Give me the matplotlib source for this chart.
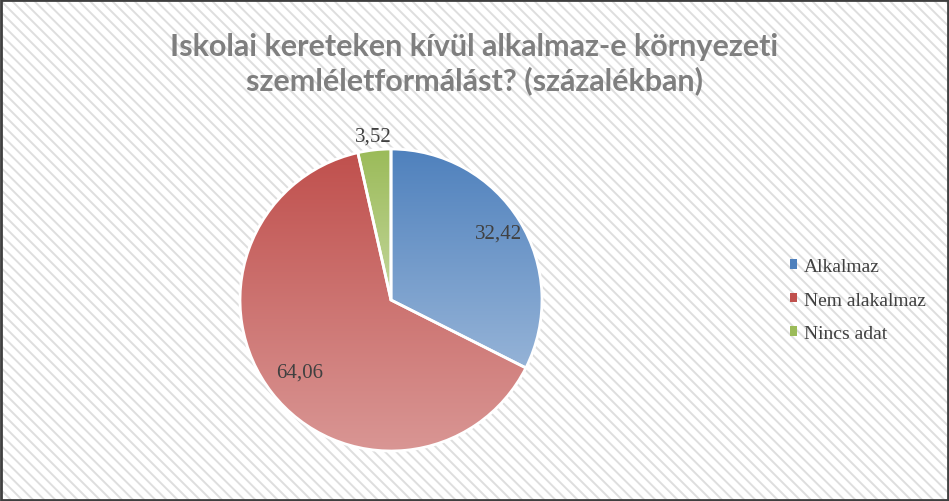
import numpy as np
import matplotlib.pyplot as plt
from matplotlib.colors import LinearSegmentedColormap
from matplotlib.patches import Rectangle

title = "Iskolai kereteken kívül alkalmaz-e környezeti\nszemléletformálást? (százalékban)"
categories = ["Alkalmaz", "Nem alakalmaz", "Nincs adat"]
values = [32.42, 64.06, 3.52]
value_labels = ["32,42", "64,06", "3,52"]
top_colors = ["#4f81bd", "#c0504d", "#9bbb59"]
bottom_colors = ["#95b3d7", "#d99694", "#c3d69b"]
label_dist = [0.84, 0.77, 1.09]

W, H = 949, 502
fig = plt.figure(figsize=(W / 100, H / 100), dpi=100)
fig.patch.set_facecolor("white")

# diagonal striped background like the Excel chart area
plt.rcParams["hatch.linewidth"] = 1.4
bg = Rectangle((0, 0), 1, 1, transform=fig.transFigure, facecolor="white",
               edgecolor="#dedede", linewidth=0, hatch="\\" * 3, zorder=-10)
fig.patches.append(bg)
fig.patches.append(Rectangle((0.001, 0.002), 0.998, 0.996, transform=fig.transFigure,
                             facecolor="none", edgecolor="#3f3f3f", linewidth=2.0,
                             zorder=10))

fig.text(0.5, 0.8715, title, ha="center", va="center", fontsize=22,
         fontweight="bold", color="#7f7f7f", family="Lato", linespacing=1.22)

cx, cy, r = 391, 301, 151
ax = fig.add_axes([(cx - r) / W, (H - cy - r) / H, 2 * r / W, 2 * r / H])
ax.axis("off")

wedges, _ = ax.pie(values, startangle=90, counterclock=False, radius=1,
                   colors=top_colors,
                   wedgeprops=dict(edgecolor="white", linewidth=2))

for i, w in enumerate(wedges):
    w.set_facecolor("none")
    ext = w.get_path().get_extents(w.get_transform() - ax.transData)
    cmap = LinearSegmentedColormap.from_list("g%d" % i, [bottom_colors[i], top_colors[i]])
    grad = np.linspace(0, 1, 256).reshape(-1, 1)
    im = ax.imshow(grad, cmap=cmap, origin="lower", aspect="auto",
                   extent=[ext.x0, ext.x1, ext.y0, ext.y1], zorder=1)
    im.set_clip_path(w)
    w.set_zorder(2)
    ang = np.deg2rad((w.theta1 + w.theta2) / 2)
    ax.text(label_dist[i] * np.cos(ang), label_dist[i] * np.sin(ang), value_labels[i],
            ha="center", va="center", fontsize=15, color="#404040",
            family="Liberation Serif", zorder=5)
ax.set_xlim(-1.0, 1.0)
ax.set_ylim(-1.0, 1.0)

handles = [Rectangle((0, 0), 1, 1, facecolor=c, edgecolor="none") for c in top_colors]
fig.legend(handles, categories, loc="center left", bbox_to_anchor=(772 / W, 1 - 301 / H),
           frameon=False, prop={"family": "Liberation Serif", "size": 14},
           labelcolor="#404040", handlelength=0.4, handleheight=0.4,
           handletextpad=0.35, labelspacing=0.85)

fig.savefig("out.png", dpi=100)
